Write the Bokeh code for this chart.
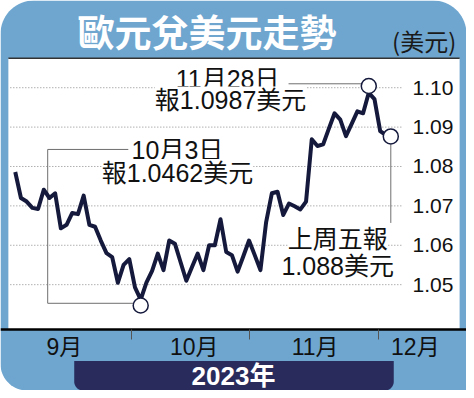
import numpy as np
from bokeh.plotting import figure
from bokeh.models import Range1d, LinearAxis, FixedTicker, PrintfTickFormatter, Label
from bokeh.core.properties import value
from bokeh.embed import file_html
from bokeh.resources import INLINE

# ---------------- data ----------------
title_text = "歐元兌美元走勢"
unit_text = "(美元)"
year_text = "2023年"
months = ["9月", "10月", "11月", "12月"]
y_ticks = [1.05, 1.06, 1.07, 1.08, 1.09, 1.10]
# EUR/USD daily closes, 1 Sep 2023 - 1 Dec 2023 (trading days)
eurusd = [1.0786, 1.0720, 1.0711, 1.0695, 1.0692, 1.0741, 1.0720, 1.0732, 1.0643, 1.0652,
          1.0682, 1.0679, 1.0726, 1.0652, 1.0647, 1.0612, 1.0580, 1.0570, 1.0505, 1.0550,
          1.0565, 1.0493, 1.0462, 1.0505, 1.0535, 1.0579, 1.0537, 1.0612, 1.0604, 1.0557,
          1.0510, 1.0545, 1.0579, 1.0537, 1.0600, 1.0600, 1.0666, 1.0583, 1.0575, 1.0533,
          1.0572, 1.0612, 1.0575, 1.0537, 1.0659, 1.0732, 1.0736, 1.0677, 1.0706, 1.0699,
          1.0691, 1.0711, 1.0869, 1.0852, 1.0856, 1.0896, 1.0935, 1.0919, 1.0877, 1.0908,
          1.0940, 1.0935, 1.0987, 1.0971, 1.0890, 1.0880]
low_date = "10月3日"
peak_date = "11月28日"
last_caption = "上周五報"

# ---------------- layout (reference pixel grid) ----------------
W, H = 466, 390
REF_W, REF_H = 474, 398
X0_PX, DX_PX = 15.0, 5.8
Y_REF_VAL, Y_REF_PX, PX_PER_UNIT = 1.10, 89.0, 4020.0

BLUE = "#6ea6d0"
NAVY = "#282b5b"
LINE = "#151a3c"
LEAD = "#6e6e6e"
CJK = "Liberation Sans, Noto Sans CJK TC"


def px2i(px):
    return (px - X0_PX) / DX_PX


def py2v(py):
    return Y_REF_VAL - (py - Y_REF_PX) / PX_PER_UNIT


month_tick_px = [133, 253, 384]
month_label_px = [65, 197, 320, 422]
month_ticks = [round(px2i(v), 3) for v in month_tick_px]
month_label_pos = [round(px2i(v), 3) for v in month_label_px]

p = figure(width=W, height=H,
           x_range=Range1d(px2i(0), px2i(REF_W)),
           y_range=Range1d(py2v(REF_H), py2v(0)),
           output_backend="svg", toolbar_location=None,
           x_axis_type=None, y_axis_type=None, min_border=0,
           outline_line_color=None, background_fill_color="white",
           border_fill_color="white")
p.extra_x_ranges = {"px": Range1d(0, REF_W)}
p.extra_y_ranges = {"py": Range1d(REF_H, 0)}
PX = dict(x_range_name="px", y_range_name="py")


def rounded_box(x0, y0, x1, y1, r_tl, r_tr, r_br, r_bl, n=18):
    xs, ys = [], []

    def arc(cx, cy, r, a0, a1):
        if r <= 0:
            xs.append(cx); ys.append(cy)
            return
        t = np.linspace(a0, a1, n)
        xs.extend(cx + r * np.cos(t)); ys.extend(cy + r * np.sin(t))

    arc(x0 + r_tl, y0 + r_tl, r_tl, np.pi, 1.5 * np.pi)
    arc(x1 - r_tr, y0 + r_tr, r_tr, 1.5 * np.pi, 2 * np.pi)
    arc(x1 - r_br, y1 - r_br, r_br, 0, 0.5 * np.pi)
    arc(x0 + r_bl, y1 - r_bl, r_bl, 0.5 * np.pi, np.pi)
    return list(xs), list(ys)


# blue frame
bx, by = rounded_box(0, 0, REF_W, REF_H, 34, 34, 0, 27)
p.patch(bx, by, fill_color=BLUE, line_color=None, **PX)
# white plotting panel
p.quad(left=[8], right=[467], top=[59], bottom=[336], fill_color="white", line_color=None, **PX)
p.segment(x0=[8], x1=[467], y0=[59], y1=[59], line_color="#333333", line_width=1.5, **PX)
# navy year bar
nx, ny = rounded_box(75, 368, 400, REF_H, 0, 0, 9, 9)
p.patch(nx, ny, fill_color=NAVY, line_color=None, **PX)

# titles
p.text(x=[210], y=[31], text=[title_text], text_font=value("Noto Sans CJK TC"),
       text_font_style="bold", text_font_size="37px", text_color="white",
       text_align="center", text_baseline="middle", **PX)
p.text(x=[431], y=[41], text=[unit_text], text_font=value("Noto Sans CJK TC"),
       text_font_size="24px", text_color="#1a1a1a",
       text_align="center", text_baseline="middle", **PX)
p.text(x=[237], y=[383], text=[year_text], text_font=value(CJK),
       text_font_style="bold", text_font_size="26px", text_color="white",
       text_align="center", text_baseline="middle", **PX)

# grid lines
n_t = len(y_ticks)
p.segment(x0=[px2i(10)] * n_t, x1=[px2i(409)] * n_t, y0=y_ticks, y1=y_ticks,
          line_color="#8a8a8a", line_width=1, line_dash="1 2")

# leader lines
p.line(x=[130, 48, 48, 135], y=[152, 152, 309, 309], line_color=LEAD, line_width=1, **PX)
p.segment(x0=[293], x1=[367], y0=[85], y1=[85], line_color=LEAD, line_width=1, **PX)
p.segment(x0=[397], x1=[397], y0=[147], y1=[227], line_color=LEAD, line_width=1, **PX)

# data line
idx = list(range(len(eurusd)))
p.line(x=idx, y=eurusd, line_color=LINE, line_width=4, line_join="round")

# marker circles at low / peak / last
i_low = int(np.argmin(eurusd))
i_peak = int(np.argmax(eurusd))
i_last = len(eurusd) - 1
dv = 1.0 / PX_PER_UNIT
cx = [i_low, i_peak, i_last + 5 / DX_PX]
cy = [eurusd[i_low] - 6 * dv, eurusd[i_peak] + 7 * dv, eurusd[i_last] - 1.5 * dv]
p.scatter(x=cx, y=cy, size=15, fill_color="white", line_color=LINE, line_width=1.5)

# annotation labels


def add_label(x, y, text):
    p.add_layout(Label(x=x, y=y, text=text, x_range_name="px", y_range_name="py",
                       text_align="center", text_baseline="middle", text_font=CJK,
                       text_font_size="25px", text_color="#111111",
                       background_fill_color="white"))


add_label(231, 80, peak_date)
add_label(234, 102, f"報{eurusd[i_peak]:.4f}美元")
add_label(180, 153, low_date)
add_label(180, 176, f"報{eurusd[i_low]:.4f}美元")
add_label(343, 243, last_caption)
add_label(343, 271, f"{eurusd[i_last]:.3f}美元")

# axes
yax = LinearAxis(fixed_location=px2i(409), ticker=FixedTicker(ticks=y_ticks),
                 formatter=PrintfTickFormatter(format="%.2f"),
                 axis_line_color=None, major_tick_line_color=None, minor_tick_line_color=None,
                 major_label_standoff=4, major_label_text_font="Liberation Sans",
                 major_label_text_font_size="21px", major_label_text_color="#111111")
p.add_layout(yax, "right")

xax_ticks = LinearAxis(fixed_location=py2v(336), ticker=FixedTicker(ticks=month_ticks),
                       major_label_overrides={t: "" for t in month_ticks},
                       major_tick_in=0, major_tick_out=10, major_tick_line_color="#555555",
                       minor_tick_line_color=None, axis_line_color="black", axis_line_width=2.5)
p.add_layout(xax_ticks, "below")

xax_labels = LinearAxis(fixed_location=py2v(336), ticker=FixedTicker(ticks=month_label_pos),
                        major_label_overrides=dict(zip(month_label_pos, months)),
                        axis_line_color=None, major_tick_line_color=None, minor_tick_line_color=None,
                        major_tick_out=0, major_tick_in=0, major_label_standoff=4,
                        major_label_text_font=CJK, major_label_text_font_size="23px",
                        major_label_text_color="#111111")
p.add_layout(xax_labels, "below")

open("out.html", "w").write(file_html(p, INLINE))
